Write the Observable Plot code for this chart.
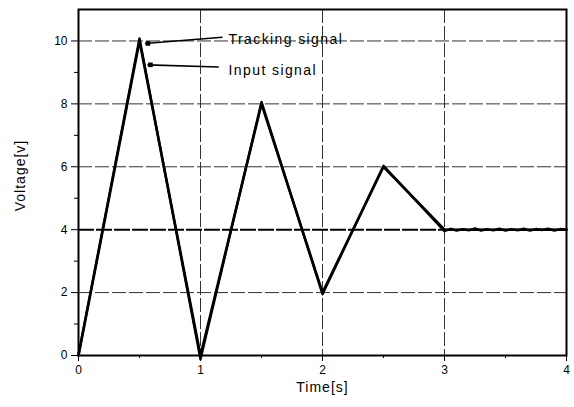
<!DOCTYPE html>
<html><head><meta charset="utf-8">
<script src="https://cdn.jsdelivr.net/npm/d3@7"></script>
<script src="https://cdn.jsdelivr.net/npm/@observablehq/plot@0.6"></script>
<style>body{margin:0;background:#fff}</style>
</head><body><div id="chart"></div>
<script>
// Input signal (ideal)
const inputTime = [0, 0.5, 1, 1.5, 2, 2.5, 3, 4];
const inputVolt = [0, 10, 0, 8, 2, 6, 4, 4];
// Tracking signal (measured, slight deviations + ripple after 3 s)
const trackTime = [0, 0.5, 1, 1.5, 2, 2.5, 3, 3.05, 3.1, 3.15, 3.2, 3.25, 3.3, 3.35, 3.4, 3.45, 3.5, 3.55, 3.6, 3.65, 3.7, 3.75, 3.8, 3.85, 3.9, 3.95, 4];
const trackVolt = [0.03, 10.08, -0.12, 8.06, 1.95, 6.03, 3.95, 4.03, 3.97, 4.02, 3.98, 4.04, 3.97, 4.02, 3.98, 4.03, 3.97, 4.02, 3.98, 4.03, 3.97, 4.02, 3.99, 4.03, 3.97, 4.02, 4.0];
// Ticks
const xTicks = [0, 1, 2, 3, 4];
const xMinor = [0.5, 1.5, 2.5, 3.5];
const yTicks = [0, 2, 4, 6, 8, 10];
const yMinor = [1, 3, 5, 7, 9];
const xGrid = [1, 2, 3];
const yGrid = [2, 6, 8, 10];
const yRef = [4];
// Annotations
const annText = ["Tracking signal", "Input signal"];
const annTextX = [1.23, 1.23];
const annTextY = [10.06, 9.07];
const annFromX = [1.18, 1.15];
const annFromY = [10.12, 9.17];
const annToX = [0.545, 0.565];
const annToY = [9.92, 9.24];
const xLabel = "Time[s]";
const yLabel = "Voltage[v]";

const input = inputTime.map((t, i) => ({t, v: inputVolt[i]}));
const track = trackTime.map((t, i) => ({t, v: trackVolt[i]}));
const ann = annText.map((s, i) => ({s, tx: annTextX[i], ty: annTextY[i], x1: annFromX[i], y1: annFromY[i], x2: annToX[i], y2: annToY[i]}));

const font = "'Liberation Sans', Arial, sans-serif";
const chart = Plot.plot({
  width: 574, height: 407,
  marginLeft: 78, marginRight: 8, marginTop: 9, marginBottom: 52,
  style: {fontFamily: font, fontSize: "12px", color: "black", background: "white", overflow: "visible"},
  x: {domain: [0, 4]},
  y: {domain: [0, 11]},
  marks: [
    Plot.gridX(xGrid, {stroke: "#333", strokeOpacity: 1, strokeWidth: 1, strokeDasharray: "14,3"}),
    Plot.gridY(yGrid, {stroke: "#333", strokeOpacity: 1, strokeWidth: 1, strokeDasharray: "14,3"}),
    Plot.gridY(yRef, {stroke: "black", strokeOpacity: 1, strokeWidth: 2, strokeDasharray: "16,2"}),
    Plot.line(input, {x: "t", y: "v", stroke: "black", strokeWidth: 2.6, clip: false}),
    Plot.line(track, {x: "t", y: "v", stroke: "black", strokeWidth: 2.4, clip: false}),
    Plot.link(ann, {x1: "x1", y1: "y1", x2: "x2", y2: "y2", stroke: "black", strokeWidth: 1.6}),
    Plot.dot(ann, {x: "x2", y: "y2", symbol: "square", r: 2.6, fill: "black", dx: 3}),
    Plot.text(ann, {x: "tx", y: "ty", text: "s", textAnchor: "start", lineAnchor: "middle", fontSize: 14, fill: "black"}),
    Plot.frame({stroke: "black", strokeWidth: 2}),
    Plot.axisX(xTicks, {tickSize: 6, tickPadding: 4, tickWidth: 2, fontSize: 12, label: null, tickFormat: d => String(d)}),
    Plot.axisX(xMinor, {tickSize: 3, tickWidth: 2, text: null, label: null}),
    Plot.axisY(yTicks, {tickSize: 7, tickPadding: 4, tickWidth: 2, fontSize: 12, label: null, tickFormat: d => String(d)}),
    Plot.axisY(yMinor, {tickSize: 4, tickWidth: 2, text: null, label: null}),
    Plot.text([xLabel], {frameAnchor: "bottom", dy: 32, lineAnchor: "middle", fontSize: 14, fill: "black"}),
    Plot.text([yLabel], {frameAnchor: "left", dx: -58, dy: -7, rotate: -90, lineAnchor: "middle", textAnchor: "middle", fontSize: 14, fill: "black"})
  ]
});
d3.select(chart).selectAll("text")
  .filter(function() { return annText.includes(this.textContent); })
  .style("letter-spacing", "1.4px");
d3.select(chart).selectAll("text")
  .filter(function() { return this.textContent === xLabel || this.textContent === yLabel; })
  .style("letter-spacing", "1px");
document.getElementById("chart").appendChild(chart);
</script>
</body></html>
